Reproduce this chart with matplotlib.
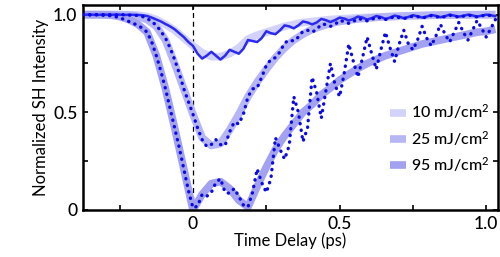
import numpy as np
import matplotlib
matplotlib.use("Agg")
import matplotlib.pyplot as plt
from matplotlib.ticker import FixedLocator

plt.rcParams['font.family'] = ['Lato', 'DejaVu Sans']
plt.rcParams['font.weight'] = 'medium'
plt.rcParams['mathtext.fontset'] = 'custom'
plt.rcParams['mathtext.rm'] = 'Lato:medium'
plt.rcParams['mathtext.it'] = 'Lato:italic'

# ---- data (time delay in ps, sampled every 1/64 ps) ----
t_data = np.arange(-24, 67) / 64.0
t_fit = np.arange(-12, 34) / 32.0

data_10 = [1.0, 1.0, 1.0, 0.998, 1.0, 1.0, 0.999, 1.0, 1.0, 0.998, 1.0, 0.999, 0.998,
           0.997, 0.993, 0.985, 0.975, 0.965, 0.952, 0.94, 0.925, 0.905, 0.885, 0.86,
           0.84, 0.80, 0.775, 0.79, 0.81, 0.79, 0.77, 0.79, 0.82, 0.81, 0.80, 0.825,
           0.87, 0.865, 0.86, 0.88, 0.915, 0.905, 0.90, 0.92, 0.945, 0.94, 0.93, 0.945,
           0.965, 0.96, 0.95, 0.96, 0.978, 0.972, 0.962, 0.972, 0.985, 0.98, 0.97, 0.978,
           0.99, 0.985, 0.975, 0.982, 0.993, 0.988, 0.978, 0.985, 0.995, 0.99, 0.982, 0.988,
           0.997, 0.992, 0.985, 0.99, 0.998, 0.994, 0.987, 0.992, 1.0, 0.995, 0.99, 0.994,
           1.0, 0.996, 0.99, 0.995, 1.0, 0.997, 0.992]

data_25 = [1.0, 1.0, 0.998, 1.0, 1.0, 0.999, 1.0, 0.998, 1.0, 1.0, 0.997, 0.998,
           0.995, 0.99, 0.98, 0.965, 0.945, 0.915, 0.88, 0.83, 0.77, 0.70, 0.62, 0.555,
           0.49, 0.42, 0.36, 0.325, 0.335, 0.36, 0.335, 0.33, 0.40, 0.45, 0.44, 0.49,
           0.58, 0.62, 0.625, 0.68, 0.74, 0.77, 0.78, 0.81, 0.855, 0.87, 0.865, 0.885,
           0.915, 0.92, 0.91, 0.925, 0.95, 0.95, 0.94, 0.95, 0.97, 0.965, 0.955, 0.965,
           0.98, 0.975, 0.968, 0.975, 0.987, 0.982, 0.975, 0.982, 0.99, 0.985, 0.98, 0.985,
           0.993, 0.99, 0.983, 0.988, 0.995, 0.99, 0.985, 0.99, 0.997, 0.993, 0.987, 0.992,
           0.998, 0.994, 0.988, 0.993, 0.999, 0.995, 0.99]

data_95 = [1.0, 1.0, 0.998, 1.0, 0.998, 0.995, 0.995, 0.99, 0.985, 0.975, 0.965, 0.955,
           0.945, 0.93, 0.91, 0.86, 0.79, 0.71, 0.62, 0.52, 0.42, 0.32, 0.21, 0.10,
           0.01, 0.02, 0.08, 0.07, 0.09, 0.14, 0.16, 0.09, 0.085, 0.11, 0.07, 0.025,
           0.015, 0.09, 0.21, 0.14, 0.09, 0.16, 0.37, 0.31, 0.26, 0.33, 0.58, 0.50,
           0.35, 0.42, 0.68, 0.60, 0.47, 0.61, 0.75, 0.64, 0.58, 0.70, 0.85, 0.76,
           0.68, 0.78, 0.885, 0.80, 0.72, 0.82, 0.91, 0.83, 0.76, 0.85, 0.92, 0.85,
           0.82, 0.87, 0.94, 0.88, 0.84, 0.89, 0.95, 0.90, 0.86, 0.91, 0.96, 0.91,
           0.87, 0.92, 0.97, 0.93, 0.885, 0.93, 0.975]

fit_10 = [1.0, 1.0, 1.0, 1.0, 1.0, 1.0, 0.998, 0.99, 0.975, 0.95, 0.92, 0.88,
          0.84, 0.805, 0.785, 0.785, 0.80, 0.83, 0.875, 0.895, 0.91, 0.925, 0.94, 0.95,
          0.96, 0.965, 0.97, 0.975, 0.978, 0.981, 0.984, 0.986, 0.988, 0.99, 0.991, 0.993,
          0.994, 0.995, 0.996, 0.997, 0.998, 0.998, 0.999, 0.999, 1.0, 1.0]

fit_25 = [1.0, 1.0, 1.0, 1.0, 1.0, 0.998, 0.99, 0.975, 0.94, 0.87, 0.75, 0.62,
          0.49, 0.37, 0.33, 0.34, 0.41, 0.49, 0.58, 0.655, 0.72, 0.78, 0.83, 0.87,
          0.90, 0.925, 0.94, 0.955, 0.965, 0.972, 0.978, 0.982, 0.986, 0.989, 0.991, 0.993,
          0.995, 0.996, 0.997, 0.998, 0.998, 0.999, 0.999, 1.0, 1.0, 1.0]

fit_95 = [1.0, 1.0, 1.0, 0.998, 0.99, 0.975, 0.95, 0.91, 0.79, 0.62, 0.42, 0.21,
          0.0, 0.08, 0.135, 0.145, 0.11, 0.05, 0.015, 0.12, 0.22, 0.31, 0.38, 0.44,
          0.50, 0.54, 0.59, 0.625, 0.665, 0.695, 0.725, 0.75, 0.77, 0.79, 0.805, 0.82,
          0.835, 0.85, 0.86, 0.87, 0.88, 0.89, 0.90, 0.91, 0.915, 0.925]

labels = ['10 mJ/cm$^{2}$', '25 mJ/cm$^{2}$', '95 mJ/cm$^{2}$']

# ---- styling ----
fit_colors = ['#d2d2fa', '#b6b6f4', '#a2a2f0']
data_color = '#0a0ae6'

fig = plt.figure(figsize=(5.0, 2.57), dpi=100)
ax = fig.add_axes([0.166, 0.183, 0.830, 0.798])

handles = []
for fit, col, lab in zip([fit_10, fit_25, fit_95], fit_colors, labels):
    h, = ax.plot(t_fit, fit, color=col, lw=5.5, solid_capstyle='butt', label=lab, zorder=2)
    handles.append(h)

ax.plot(t_data, data_10, color='#2a2af0', lw=1.8, zorder=3)
dot = (0, (0.1, 1.9))
ax.plot(t_data, data_25, color=data_color, lw=2.4, linestyle=dot,
        dash_capstyle='round', zorder=3)
ax.plot(t_data, data_95, color=data_color, lw=2.4, linestyle=dot,
        dash_capstyle='round', zorder=3)

ax.axvline(0, color='black', lw=0.9, linestyle=(0, (4, 3)), zorder=1)

ax.set_xlim(-0.375, 1.04)
ax.set_ylim(0, 1.05)

ax.xaxis.set_major_locator(FixedLocator([0, 0.5, 1.0]))
ax.xaxis.set_minor_locator(FixedLocator([-0.25, 0.25, 0.75]))
ax.yaxis.set_major_locator(FixedLocator([0, 0.5, 1.0]))
ax.yaxis.set_minor_locator(FixedLocator([0.25, 0.75]))
ax.set_xticklabels(['0', '0.5', '1.0'])
ax.set_yticklabels(['0', '0.5', '1.0'])
ax.tick_params(which='both', direction='in', top=True, right=True,
               length=3.5, width=1.2, labelsize=12.5, pad=4)

for s in ax.spines.values():
    s.set_linewidth(1.8)

ax.set_xlabel('Time Delay (ps)', fontsize=12, labelpad=1)
ax.set_ylabel('Normalized SH Intensity', fontsize=12, labelpad=3)

leg = ax.legend(handles=handles, loc='upper left', bbox_to_anchor=(0.725, 0.555),
                frameon=False, fontsize=11.5, handlelength=1.0, handletextpad=0.3,
                labelspacing=0.45, borderaxespad=0)

fig.savefig('out.png', dpi=100)
